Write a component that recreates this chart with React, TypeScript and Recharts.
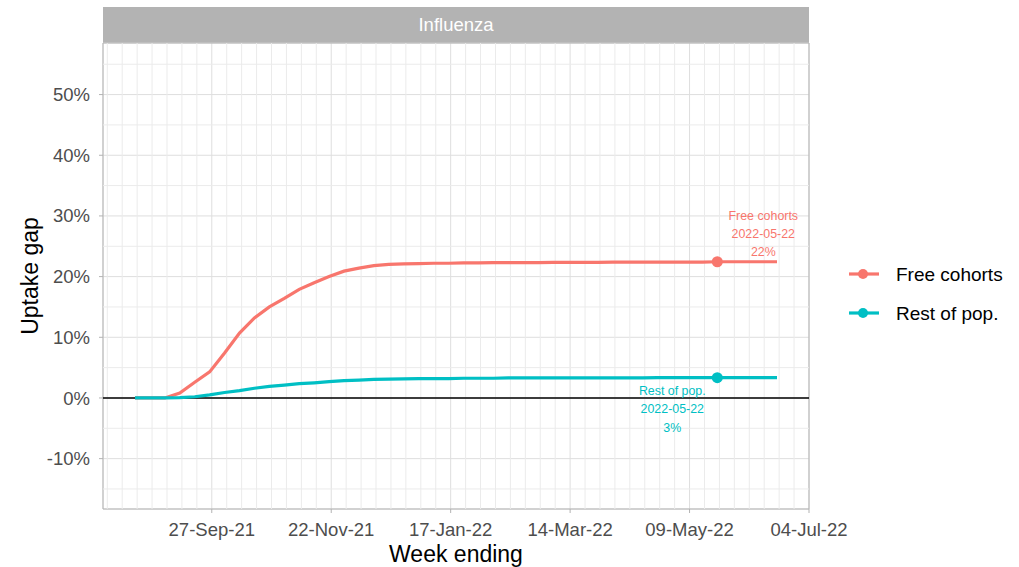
import React from 'react';
import {
  LineChart,
  Line,
  XAxis,
  YAxis,
  CartesianGrid,
  ReferenceLine,
  ReferenceDot,
  ReferenceArea,
} from 'recharts';

// ---------- data ----------
const weekEnding = [
  '2021-08-22', '2021-08-29', '2021-09-05', '2021-09-12', '2021-09-19', '2021-09-26',
  '2021-10-03', '2021-10-10', '2021-10-17', '2021-10-24', '2021-10-31', '2021-11-07',
  '2021-11-14', '2021-11-21', '2021-11-28', '2021-12-05', '2021-12-12', '2021-12-19',
  '2021-12-26', '2022-01-02', '2022-01-09', '2022-01-16', '2022-01-23', '2022-01-30',
  '2022-02-06', '2022-02-13', '2022-02-20', '2022-02-27', '2022-03-06', '2022-03-13',
  '2022-03-20', '2022-03-27', '2022-04-03', '2022-04-10', '2022-04-17', '2022-04-24',
  '2022-05-01', '2022-05-08', '2022-05-15', '2022-05-22', '2022-05-29', '2022-06-05',
  '2022-06-12', '2022-06-19',
];

const freeCohorts = [
  0, 0, 0, 0.8, 2.6, 4.3, 7.4, 10.7, 13.2, 15.0, 16.4, 17.9,
  19.0, 20.0, 20.9, 21.4, 21.8, 22.0, 22.1, 22.15, 22.2, 22.2, 22.25, 22.25,
  22.3, 22.3, 22.3, 22.3, 22.35, 22.35, 22.35, 22.35, 22.4, 22.4, 22.4, 22.4,
  22.4, 22.4, 22.4, 22.45, 22.45, 22.45, 22.45, 22.45,
];

const restOfPop = [
  0, 0, 0, 0.05, 0.2, 0.5, 0.9, 1.2, 1.6, 1.9, 2.1, 2.35,
  2.5, 2.7, 2.85, 2.95, 3.05, 3.1, 3.15, 3.2, 3.2, 3.2, 3.25, 3.25,
  3.25, 3.3, 3.3, 3.3, 3.3, 3.3, 3.3, 3.3, 3.3, 3.3, 3.3, 3.35,
  3.35, 3.35, 3.35, 3.35, 3.35, 3.35, 3.35, 3.35,
];

const seriesNames = ['Free cohorts', 'Rest of pop.'];
const seriesColors = ['#F8766D', '#00BFC4'];
const highlightDate = '2022-05-22';
const highlightLabels = ['22%', '3%'];

const xTickDates = ['2021-09-27', '2021-11-22', '2022-01-17', '2022-03-14', '2022-05-09', '2022-07-04'];
const xDomainDates = ['2021-08-07', '2022-07-04'];
const xMinorStart = '2021-08-09';
const yTicks = [-10, 0, 10, 20, 30, 40, 50];
const yMinor = [-15, -5, 5, 15, 25, 35, 45, 55];
const yDomain = [-18.3, 58.5];
const facetTitle = 'Influenza';

// ---------- helpers ----------
const DAY = 86400000;
const ts = (d: string) => {
  const [y, m, dd] = d.split('-').map(Number);
  return Date.UTC(y, m - 1, dd);
};
const MONTHS = ['Jan', 'Feb', 'Mar', 'Apr', 'May', 'Jun', 'Jul', 'Aug', 'Sep', 'Oct', 'Nov', 'Dec'];
const fmtDate = (t: number) => {
  const d = new Date(t);
  const dd = String(d.getUTCDate()).padStart(2, '0');
  const yy = String(d.getUTCFullYear()).slice(2);
  return `${dd}-${MONTHS[d.getUTCMonth()]}-${yy}`;
};

const data = weekEnding.map((d, i) => ({ t: ts(d), free: freeCohorts[i], rest: restOfPop[i] }));
const xTicks = xTickDates.map(ts);
const xDomain = xDomainDates.map(ts);
const xMinor: number[] = [];
for (let t = ts(xMinorStart); t < xDomain[1]; t += 7 * DAY) {
  if (!xTicks.includes(t)) xMinor.push(t);
}
const hiT = ts(highlightDate);
const hiIdx = weekEnding.indexOf(highlightDate);

const FONT = '"Liberation Sans", Arial, Helvetica, sans-serif';

const makeLabel = (lines: string[], color: string, dx: number, dys: number[]) => (props: any) => {
  const vb = props.viewBox || {};
  const cx = (vb.x ?? 0) + (vb.width ?? 0) / 2;
  const cy = (vb.y ?? 0) + (vb.height ?? 0) / 2;
  return (
    <g>
      {lines.map((l, i) => (
        <text key={i} x={cx + dx} y={cy + dys[i]} textAnchor="middle" fill={color} fontSize={12.4} fontFamily={FONT}>
          {l}
        </text>
      ))}
    </g>
  );
};

const LegendBox = () => (
  <svg width={170} height={80} style={{ position: 'absolute', left: 845, top: 258 }}>
    {seriesNames.map((n, i) => (
      <g key={n} transform={`translate(0, ${16 + i * 39})`}>
        <line x1={4} x2={34} y1={0} y2={0} stroke={seriesColors[i]} strokeWidth={3.2} />
        <circle cx={18} cy={0} r={5} fill={seriesColors[i]} />
        <text x={51} y={0} dy="0.35em" fontSize={19} fontFamily={FONT} fill="#000">
          {n}
        </text>
      </g>
    ))}
  </svg>
);

export default function App() {
  return (
    <div style={{ position: 'absolute', left: 0, top: 0, width: 1019, height: 567, background: '#fff', fontFamily: FONT }}>
      <div
        style={{
          position: 'absolute',
          left: 103,
          top: 7,
          width: 706,
          height: 36,
          background: '#B3B3B3',
          color: '#fff',
          fontSize: 18.5,
          lineHeight: '36px',
          textAlign: 'center',
          fontFamily: FONT,
        }}
      >
        {facetTitle}
      </div>
      <LineChart width={1019} height={567} data={data} margin={{ top: 43, right: 210, bottom: 0, left: 0 }}>
        <CartesianGrid stroke="#DEDEDE" strokeWidth={1} />
        {xMinor.map((t) => (
          <ReferenceLine key={`vx${t}`} x={t} stroke="#EBEBEB" strokeWidth={1} />
        ))}
        {yMinor.map((v) => (
          <ReferenceLine key={`hy${v}`} y={v} stroke="#EBEBEB" strokeWidth={1} />
        ))}
        <ReferenceArea
          x1={xDomain[0]}
          x2={xDomain[1]}
          y1={yDomain[0]}
          y2={yDomain[1]}
          fill="none"
          stroke="#B3B3B3"
          strokeWidth={1}
          fillOpacity={0}
        />
        <XAxis
          dataKey="t"
          type="number"
          domain={xDomain}
          ticks={xTicks}
          allowDataOverflow
          tickFormatter={fmtDate}
          axisLine={false}
          tickLine={{ stroke: '#B3B3B3' }}
          tickSize={4}
          tickMargin={10}
          height={58}
          interval={0}
          tick={{ fill: '#4D4D4D', fontSize: 18.5, fontFamily: FONT }}
          label={(p: any) => {
            const vb = p.viewBox || {};
            const cx = vb.x + vb.width / 2;
            return (
              <text x={cx} y={562} textAnchor="middle" fontSize={23} fontFamily={FONT} fill="#000">
                Week ending
              </text>
            );
          }}
        />
        <YAxis
          type="number"
          domain={yDomain}
          ticks={yTicks}
          allowDataOverflow
          tickFormatter={(v: number) => `${v}%`}
          axisLine={false}
          tickLine={{ stroke: '#B3B3B3' }}
          tickSize={4}
          tickMargin={9}
          width={103}
          interval={0}
          tick={{ fill: '#4D4D4D', fontSize: 18.5, fontFamily: FONT }}
          label={(p: any) => {
            const vb = p.viewBox || {};
            const cy = vb.y + vb.height / 2;
            return (
              <text
                x={30}
                y={cy}
                transform={`rotate(-90 30 ${cy})`}
                textAnchor="middle"
                dy="0.35em"
                fontSize={23}
                fontFamily={FONT}
                fill="#000"
              >
                Uptake gap
              </text>
            );
          }}
        />
        <ReferenceLine y={0} stroke="#000" strokeWidth={1.6} />
        <Line
          dataKey="free"
          name={seriesNames[0]}
          stroke={seriesColors[0]}
          strokeWidth={3.2}
          dot={false}
          type="linear"
          isAnimationActive={false}
        />
        <Line
          dataKey="rest"
          name={seriesNames[1]}
          stroke={seriesColors[1]}
          strokeWidth={3.2}
          dot={false}
          type="linear"
          isAnimationActive={false}
        />
        <ReferenceDot
          x={hiT}
          y={freeCohorts[hiIdx]}
          r={5.5}
          fill={seriesColors[0]}
          stroke="none"
          label={makeLabel([seriesNames[0], highlightDate, highlightLabels[0]], seriesColors[0], 46, [-42, -24, -6])}
        />
        <ReferenceDot
          x={hiT}
          y={restOfPop[hiIdx]}
          r={5.5}
          fill={seriesColors[1]}
          stroke="none"
          label={makeLabel([seriesNames[1], highlightDate, highlightLabels[1]], seriesColors[1], -45, [17, 35.5, 54])}
        />
      </LineChart>
      <LegendBox />
    </div>
  );
}
